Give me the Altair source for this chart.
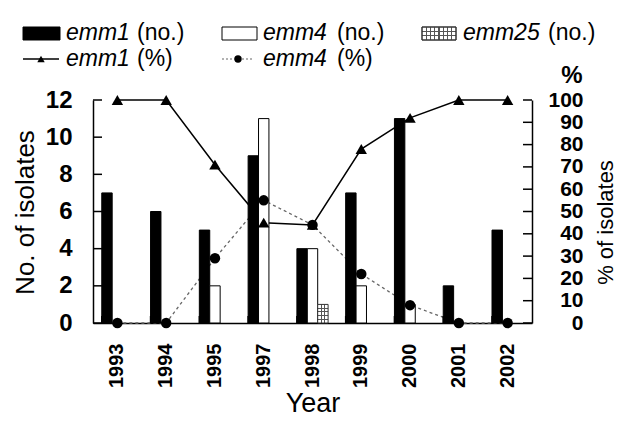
import altair as alt
import pandas as pd

# ---------------- data ----------------
years = ["1993", "1994", "1995", "1997", "1998", "1999", "2000", "2001", "2002"]
emm1_no = [7, 6, 5, 9, 4, 7, 11, 2, 5]
emm4_no = [0, 0, 2, 11, 4, 2, 1, 0, 0]
emm25_no = [0, 0, 0, 0, 1, 0, 0, 0, 0]
emm1_pct = [100, 100, 71, 45, 44, 78, 92, 100, 100]
emm4_pct = [0, 0, 29, 55, 44, 22, 8, 0, 0]
left_ticks = [0, 2, 4, 6, 8, 10, 12]
right_ticks = [0, 10, 20, 30, 40, 50, 60, 70, 80, 90, 100]
types = ["emm1", "emm4", "emm25"]

W, H = 439, 223
FONT = "Liberation Sans"

rows = []
for t, vals in zip(types, [emm1_no, emm4_no, emm25_no]):
    for y, v in zip(years, vals):
        if v > 0:
            rows.append({"year": y, "type": t, "count": v})
bars_df = pd.DataFrame(rows)

pct_rows = []
for t, vals in zip(["emm1", "emm4"], [emm1_pct, emm4_pct]):
    for y, v in zip(years, vals):
        pct_rows.append({"year": y, "type": t, "pct": v})
pct_df = pd.DataFrame(pct_rows)
years_df = pd.DataFrame({"year": years})
lt_df = pd.DataFrame({"v": left_ticks})
rt_df = pd.DataFrame({"v": right_ticks})
one = pd.DataFrame({"k": [0]})

# ---------------- shared encodings ----------------
x_scale = alt.Scale(domain=years, paddingInner=0.36, paddingOuter=0.18)
x_axis = alt.Axis(
    title="Year", labelAngle=270, labelFont=FONT, labelFontSize=20,
    labelFontWeight="bold", labelColor="black", labelPadding=20, ticks=False,
    domainColor="black", domainWidth=1.5, titleFont=FONT, titleFontSize=27,
    titleFontWeight="normal", titleColor="black", titleY=88,
    titleBaseline="alphabetic",
)


def xenc(**kw):
    return alt.X("year:N", sort=years, scale=x_scale, axis=x_axis, **kw)


xo = alt.XOffset("type:N", scale=alt.Scale(domain=types, paddingInner=0, paddingOuter=0))
left_scale = alt.Scale(domain=[0, 12], nice=False)
right_scale = alt.Scale(domain=[0, 100], nice=False)

left_axis = alt.Axis(
    title="No. of isolates", orient="left", values=left_ticks, labelFont=FONT,
    labelFontSize=24, labelFontWeight="bold", labelColor="black", labelPadding=21,
    ticks=False, domainColor="black", domainWidth=1.5, labelOverlap=False,
    titleFont=FONT, titleFontSize=26, titleFontWeight="normal", titleColor="black",
    titleAngle=270, titleX=-68, titleY=112, titleBaseline="middle",
)
right_axis = alt.Axis(
    title="% of isolates", orient="right", values=right_ticks, labelFont=FONT,
    labelFontSize=21, labelFontWeight="bold", labelColor="black", labelAlign="right",
    labelPadding=51, ticks=False, domainColor="black", domainWidth=1.5,
    labelOverlap=False, titleFont=FONT, titleFontSize=22, titleFontWeight="normal",
    titleColor="black", titleAngle=270, titleX=73, titleY=122, titleBaseline="middle",
)


def stripes(n, color, bg, width, horizontal):
    stops = [{"offset": 0, "color": bg}]
    for k in range(1, n):
        c = k / n
        stops += [
            {"offset": c - width / 2, "color": bg},
            {"offset": c - width / 2, "color": color},
            {"offset": c + width / 2, "color": color},
            {"offset": c + width / 2, "color": bg},
        ]
    stops.append({"offset": 1, "color": bg})
    g = {"gradient": "linear", "stops": stops}
    if horizontal:
        g.update({"x1": 0, "y1": 0, "x2": 0, "y2": 1})
    else:
        g.update({"x1": 0, "y1": 0, "x2": 1, "y2": 0})
    return g


CLEAR = "rgba(0,0,0,0)"

# ---------------- lines (right axis) ----------------
line1 = alt.Chart(pct_df[pct_df.type == "emm1"]).mark_line(
    color="black", strokeWidth=1.5
).encode(x=xenc(), y=alt.Y("pct:Q", scale=right_scale, axis=right_axis))

line4 = alt.Chart(pct_df[pct_df.type == "emm4"]).mark_line(
    color="#666666", strokeWidth=1.3, strokeDash=[3, 3]
).encode(x=xenc(), y=alt.Y("pct:Q", scale=right_scale, axis=None))

# ---------------- bars (left axis) ----------------
bars = alt.Chart(bars_df[bars_df.type != "emm25"]).mark_bar(
    stroke="black", strokeWidth=1
).encode(
    x=xenc(), xOffset=xo,
    y=alt.Y("count:Q", scale=left_scale, axis=left_axis),
    fill=alt.Fill("type:N", scale=alt.Scale(domain=types, range=["black", "white", "white"]), legend=None),
)

b25 = bars_df[bars_df.type == "emm25"]
grid_h = alt.Chart(b25).mark_bar(
    fill=stripes(5, "#555555", "white", 0.06, True)
).encode(x=xenc(), xOffset=xo, y=alt.Y("count:Q", scale=left_scale, axis=None))
grid_v = alt.Chart(b25).mark_bar(
    fill=stripes(3, "#555555", CLEAR, 0.1, False), stroke="#333333", strokeWidth=1
).encode(x=xenc(), xOffset=xo, y=alt.Y("count:Q", scale=left_scale, axis=None))

# ---------------- points on top ----------------
pts1 = alt.Chart(pct_df[pct_df.type == "emm1"]).mark_point(
    filled=True, shape="triangle-up", size=130, color="black", opacity=1
).encode(x=xenc(), y=alt.Y("pct:Q", scale=right_scale, axis=None))
pts4 = alt.Chart(pct_df[pct_df.type == "emm4"]).mark_point(
    filled=True, shape="circle", size=110, color="black", opacity=1
).encode(x=xenc(), y=alt.Y("pct:Q", scale=right_scale, axis=None))

# ---------------- inward ticks ----------------
lticks = alt.Chart(lt_df).mark_rule(color="black", strokeWidth=1.5).encode(
    y=alt.Y("v:Q", scale=left_scale, axis=None), x=alt.value(0), x2=alt.value(9))
rticks = alt.Chart(rt_df).mark_rule(color="black", strokeWidth=1.5).encode(
    y=alt.Y("v:Q", scale=right_scale, axis=None), x=alt.value(W - 9), x2=alt.value(W))
xticks = alt.Chart(years_df).mark_rule(color="black", strokeWidth=1.5).encode(
    x=xenc(bandPosition=0), y=alt.value(H), y2=alt.value(H - 7))

# ---------------- custom legend ----------------
def txt(s, x, y, italic=False, size=23, weight="normal", align="left"):
    return alt.Chart(one).mark_text(
        font=FONT, fontSize=size, fontStyle="italic" if italic else "normal",
        fontWeight=weight, align=align, baseline="middle", color="black",
    ).encode(x=alt.value(x), y=alt.value(y), text=alt.value(s))


def box(x1, x2, y1, y2, fill, stroke="black"):
    return alt.Chart(one).mark_rect(fill=fill, stroke=stroke, strokeWidth=1).encode(
        x=alt.value(x1), x2=alt.value(x2), y=alt.value(y1), y2=alt.value(y2))


R1, R2 = -67, -41
legend = [
    box(-70, -33, -73, -60, "black"),
    txt("emm1", -27, R1, italic=True), txt("(no.)", 44, R1),
    box(129, 164, -73, -60, "white"),
    txt("emm4", 170, R1, italic=True), txt("(no.)", 244, R1),
    box(329, 363, -73, -60, stripes(3, "#555555", "white", 0.1, True), stroke="#333333"),
    box(329, 363, -73, -60, stripes(8, "#555555", CLEAR, 0.04, False), stroke="#333333"),
    txt("emm25", 370, R1, italic=True), txt("(no.)", 455, R1),
    alt.Chart(one).mark_rule(color="black", strokeWidth=1.3).encode(
        x=alt.value(-70), x2=alt.value(-34), y=alt.value(R2)),
    alt.Chart(one).mark_point(filled=True, shape="triangle-up", size=55, color="black", opacity=1).encode(
        x=alt.value(-52), y=alt.value(R2)),
    txt("emm1", -27, R2, italic=True), txt("(%)", 44, R2),
    alt.Chart(one).mark_rule(color="#666666", strokeWidth=1.2, strokeDash=[2, 2]).encode(
        x=alt.value(129), x2=alt.value(160), y=alt.value(R2)),
    alt.Chart(one).mark_point(filled=True, shape="circle", size=55, color="black", opacity=1).encode(
        x=alt.value(145), y=alt.value(R2)),
    txt("emm4", 170, R2, italic=True), txt("(%)", 244, R2),
    txt("%", 479, -24, size=24, weight="bold", align="center"),
]

chart = alt.layer(
    line1, line4, bars, grid_h, grid_v, pts1, pts4, lticks, rticks, xticks, *legend
).resolve_scale(y="independent").properties(
    width=W, height=H,
    padding={"left": 85, "top": 92, "right": 84, "bottom": 94},
    autosize=alt.AutoSizeParams(type="none"),
).configure_view(stroke=None).configure_axis(grid=False)

chart.save("out.html", embed_options={"renderer": "svg", "actions": False})
